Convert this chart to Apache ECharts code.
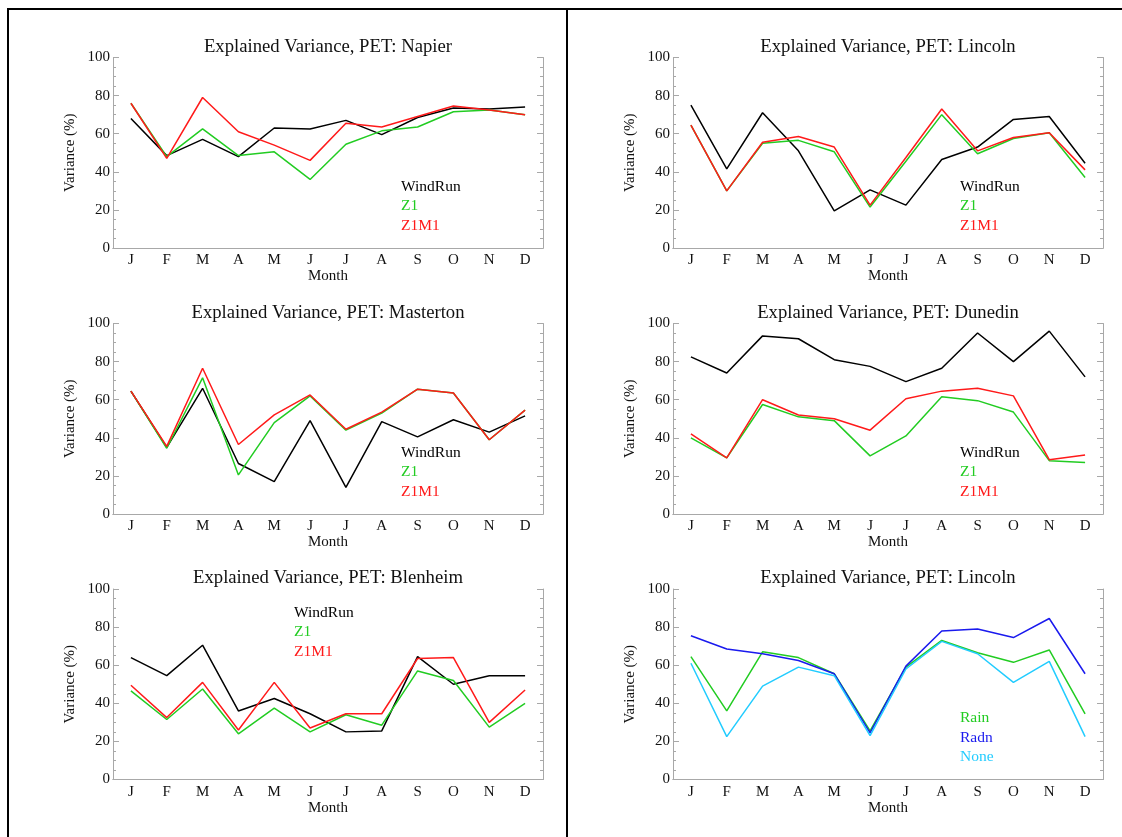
<!DOCTYPE html>
<html>
<head>
<meta charset="utf-8">
<script src="https://cdn.jsdelivr.net/npm/echarts@6/dist/echarts.min.js"></script>
<style>
  html, body { margin: 0; padding: 0; background: #fff; }
  #main { width: 1122px; height: 837px; }
</style>
</head>
<body>
<div id="main"></div>
<script>
var myChart = echarts.init(document.getElementById('main'));

const months = ['J', 'F', 'M', 'A', 'M', 'J', 'J', 'A', 'S', 'O', 'N', 'D'];
const yTicks = [0, 20, 40, 60, 80, 100];

// Napier
const napierWind = [68, 48.5, 57, 48, 63, 62.5, 67, 59.5, 68.5, 73.5, 73, 74];
const napierZ1 = [76, 48, 62.5, 48.5, 50.5, 36, 54.5, 61.5, 63.5, 71.5, 72.5, 70];
const napierZ1M1 = [76, 47, 79, 61, 54, 46, 65.5, 63.5, 69, 74.5, 72.5, 70];

// Lincoln
const lincolnWind = [75, 41.5, 71, 51, 19.5, 30.5, 22.5, 46.5, 53, 67.5, 69, 44.5];
const lincolnZ1 = [64.5, 30, 55, 56.5, 50.5, 21.5, 45.5, 70, 49.5, 57.5, 60.5, 37];
const lincolnZ1M1 = [64.5, 30, 55.5, 58.5, 53, 22.5, 47.5, 73, 51, 58, 60.5, 41];

// Masterton
const mastertonWind = [64.5, 35, 66, 26.5, 17, 49, 14, 48.5, 40.5, 49.5, 43, 51.5];
const mastertonZ1 = [64.5, 34.5, 71.5, 20.5, 48, 62, 44, 53, 65.5, 63.5, 39, 54.5];
const mastertonZ1M1 = [64.5, 35.5, 76.5, 36.5, 52, 62.5, 44.5, 53.5, 65.5, 63.5, 39, 54.5];

// Dunedin
const dunedinWind = [82.5, 74, 93.5, 92, 81, 77.5, 69.5, 76.5, 95, 80, 96, 72];
const dunedinZ1 = [40, 29.5, 57.5, 51, 49, 30.5, 41, 61.5, 59.5, 53.5, 28, 27];
const dunedinZ1M1 = [42, 29.5, 60, 52, 50, 44, 60.5, 64.5, 66, 62, 28.5, 31];

// Blenheim
const blenheimWind = [64, 54.5, 70.5, 36, 42.5, 34.5, 25, 25.5, 64.5, 50, 54.5, 54.5];
const blenheimZ1 = [46.5, 31.5, 47.5, 24, 37.5, 25, 34, 28.5, 57, 52, 27.5, 40];
const blenheimZ1M1 = [49.5, 32.5, 51, 26, 51, 27, 34.5, 34.5, 63.5, 64, 30, 47];

// Lincoln, predictors
const lincolnRain = [64.5, 36, 67, 64, 55.5, 25.5, 59, 73, 66.5, 61.5, 68, 34.5];
const lincolnRadn = [75.5, 68.5, 66, 62.5, 55.5, 24.5, 59.5, 78, 79, 74.5, 84.5, 55.5];
const lincolnNone = [61, 22.5, 49, 59, 54.5, 23, 58, 72.5, 66, 51, 62, 22.5];

const windNames = ['WindRun', 'Z1', 'Z1M1'];
const windColors = ['#000000', '#22cc22', '#ff1a1a'];
const predNames = ['Rain', 'Radn', 'None'];
const predColors = ['#22cc22', '#1a1aee', '#22ccff'];

const panels = [
  { title: 'Explained Variance, PET: Napier', names: windNames, colors: windColors, data: [napierWind, napierZ1, napierZ1M1] },
  { title: 'Explained Variance, PET: Lincoln', names: windNames, colors: windColors, data: [lincolnWind, lincolnZ1, lincolnZ1M1] },
  { title: 'Explained Variance, PET: Masterton', names: windNames, colors: windColors, data: [mastertonWind, mastertonZ1, mastertonZ1M1] },
  { title: 'Explained Variance, PET: Dunedin', names: windNames, colors: windColors, data: [dunedinWind, dunedinZ1, dunedinZ1M1] },
  { title: 'Explained Variance, PET: Blenheim', names: windNames, colors: windColors, data: [blenheimWind, blenheimZ1, blenheimZ1M1] },
  { title: 'Explained Variance, PET: Lincoln', names: predNames, colors: predColors, data: [lincolnRain, lincolnRadn, lincolnNone] }
];

// layout (px)
const colLeft = [113, 673];
const rowTop = [57.5, 323.5, 589];
const plotW = 430;
const plotH = 190.5;
// legend text start / first line centre
const legendPos = [[401, 186], [960, 186], [401, 452], [960, 452], [294, 612], [960, 717.5]];

const FONT = 'Liberation Serif';
const AXIS = '#a8a8a8';
const TEXT = '#111111';

const grid = [], xAxis = [], yAxis = [], title = [], legend = [], series = [];

panels.forEach(function (p, i) {
  const left = colLeft[i % 2];
  const top = rowTop[Math.floor(i / 2)];
  grid.push({ left: left, top: top, width: plotW, height: plotH });

  title.push({
    text: p.title,
    left: left + plotW / 2,
    top: top - 20,
    textAlign: 'center',
    padding: 0,
    textStyle: { fontFamily: FONT, fontSize: 18.7, fontWeight: 'normal', color: TEXT }
  });

  // bottom x axis with labels
  xAxis.push({
    type: 'category',
    gridIndex: i,
    data: months,
    boundaryGap: true,
    position: 'bottom',
    name: 'Month',
    nameLocation: 'middle',
    nameGap: 21,
    nameTextStyle: { fontFamily: FONT, fontSize: 15, color: TEXT },
    axisLine: { lineStyle: { color: AXIS, width: 1 } },
    axisTick: { inside: true, length: 4, alignWithLabel: true, lineStyle: { color: AXIS } },
    axisLabel: { fontFamily: FONT, fontSize: 15, color: TEXT, margin: 5, interval: 0 },
    splitLine: { show: false }
  });
  // top x axis, ticks only
  xAxis.push({
    type: 'category',
    gridIndex: i,
    data: months,
    boundaryGap: true,
    position: 'top',
    axisLine: { lineStyle: { color: AXIS, width: 1 } },
    axisTick: { inside: true, length: 4, alignWithLabel: true, lineStyle: { color: AXIS } },
    axisLabel: { show: false },
    splitLine: { show: false }
  });

  yAxis.push({
    type: 'value',
    gridIndex: i,
    min: yTicks[0],
    max: yTicks[yTicks.length - 1],
    interval: yTicks[1] - yTicks[0],
    position: 'left',
    name: 'Variance (%)',
    nameLocation: 'middle',
    nameGap: 35,
    nameTextStyle: { fontFamily: FONT, fontSize: 15, color: TEXT },
    axisLine: { show: true, lineStyle: { color: AXIS, width: 1 } },
    axisTick: { show: true, inside: true, length: 6, lineStyle: { color: AXIS } },
    minorTick: { show: true, splitNumber: 4, length: 3, lineStyle: { color: AXIS } },
    axisLabel: { fontFamily: FONT, fontSize: 15, color: TEXT, margin: 3 },
    splitLine: { show: false }
  });
  yAxis.push({
    type: 'value',
    gridIndex: i,
    min: yTicks[0],
    max: yTicks[yTicks.length - 1],
    interval: yTicks[1] - yTicks[0],
    position: 'right',
    axisLine: { show: true, lineStyle: { color: AXIS, width: 1 } },
    axisTick: { show: true, inside: true, length: 6, lineStyle: { color: AXIS } },
    minorTick: { show: true, splitNumber: 4, length: 3, lineStyle: { color: AXIS } },
    axisLabel: { show: false },
    splitLine: { show: false }
  });

  legend.push({
    orient: 'vertical',
    left: legendPos[i][0] - 5,
    top: legendPos[i][1] - 7.5,
    padding: 0,
    icon: 'none',
    itemWidth: 0,
    itemHeight: 15,
    itemGap: 3.5,
    selectedMode: false,
    textStyle: { fontFamily: FONT, fontSize: 15.5 },
    data: p.names.map(function (n, k) {
      return { name: n, textStyle: { color: p.colors[k] } };
    })
  });

  p.data.forEach(function (values, k) {
    series.push({
      name: p.names[k],
      type: 'line',
      xAxisIndex: i * 2,
      yAxisIndex: i * 2,
      data: values,
      symbol: 'none',
      lineStyle: { color: p.colors[k], width: 1.5 },
      itemStyle: { color: p.colors[k] }
    });
  });
});

const option = {
  animation: false,
  backgroundColor: '#ffffff',
  title: title,
  legend: legend,
  grid: grid,
  xAxis: xAxis,
  yAxis: yAxis,
  series: series,
  graphic: [
    // page frame
    { type: 'line', shape: { x1: 7, y1: 9, x2: 1122, y2: 9 }, style: { stroke: '#000', lineWidth: 2 } },
    { type: 'line', shape: { x1: 8, y1: 8, x2: 8, y2: 837 }, style: { stroke: '#000', lineWidth: 2 } },
    { type: 'line', shape: { x1: 567, y1: 8, x2: 567, y2: 837 }, style: { stroke: '#000', lineWidth: 2 } }
  ]
};

myChart.setOption(option);
</script>
</body>
</html>
